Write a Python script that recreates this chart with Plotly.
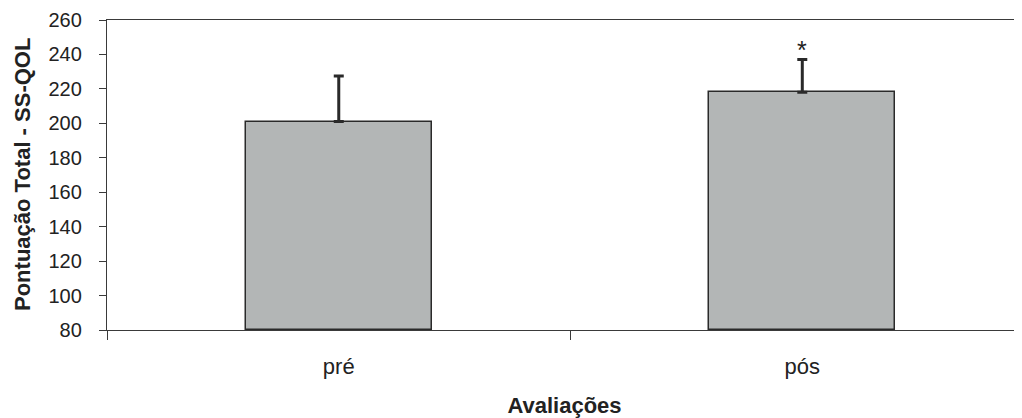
import plotly.graph_objects as go

categories = ["pré", "pós"]
means = [201.0, 218.0]
errors_up = [26.5, 19.0]
significance = ["", "*"]
y_ticks = [80, 100, 120, 140, 160, 180, 200, 220, 240, 260]

FONT = "Liberation Sans, Arial, sans-serif"
x_pos = list(range(len(categories)))

fig = go.Figure()
fig.add_trace(go.Bar(
    x=x_pos, y=[m - 80 for m in means], base=80,
    width=0.401,
    marker=dict(color="#b3b6b6", line=dict(color="#2a2a2a", width=1.5)),
    error_y=dict(type="data", array=errors_up, arrayminus=[0, 0], symmetric=False,
                 color="#2a2a2a", thickness=3, width=5),
    hoverinfo="skip",
))

for xi, (m, e, s) in enumerate(zip(means, errors_up, significance)):
    if s:
        fig.add_annotation(x=xi, y=m + e, text=s, showarrow=False,
                           yanchor="bottom", yshift=-6,
                           font=dict(family=FONT, size=25, color="#222"))

# y-axis title as a rotated annotation for precise placement
fig.add_annotation(x=0, xref="paper", y=0.5, yref="paper", xanchor="center", yanchor="middle",
                   xshift=-85, textangle=-90, showarrow=False,
                   text="<b>Pontuação Total - SS-QOL</b>",
                   font=dict(family=FONT, size=22, color="#222"))

# page body has an 8px margin, so the figure is sized to fill the rest
fig.update_layout(
    width=1014, height=410,
    margin=dict(l=99, r=0, t=12, b=88),
    paper_bgcolor="white", plot_bgcolor="white",
    showlegend=False,
    font=dict(family=FONT, color="#222"),
    bargap=0,
)
fig.update_xaxes(
    range=[-0.5, 1.474],
    tickvals=x_pos, ticktext=categories, ticks="",
    tickfont=dict(size=22, color="#222"),
    showline=True, linecolor="#3a3a3a", linewidth=1.3, mirror=True,
    showgrid=False, zeroline=False,
    minor=dict(tick0=-0.5, dtick=1, ticks="outside", ticklen=9, tickwidth=1.3,
               tickcolor="#3a3a3a", showgrid=False),
    title=dict(text="<b>Avaliações</b>", font=dict(size=22, color="#222"), standoff=25),
    ticklabelstandoff=16,
)
fig.update_yaxes(
    range=[80, 260], tickvals=y_ticks,
    ticks="outside", ticklen=7, tickwidth=1.3, tickcolor="#3a3a3a",
    tickfont=dict(size=20, color="#222"),
    showline=True, linecolor="#3a3a3a", linewidth=1.3,
    showgrid=False, zeroline=False,
    ticklabelstandoff=13,
)

fig.write_html("out.html")
